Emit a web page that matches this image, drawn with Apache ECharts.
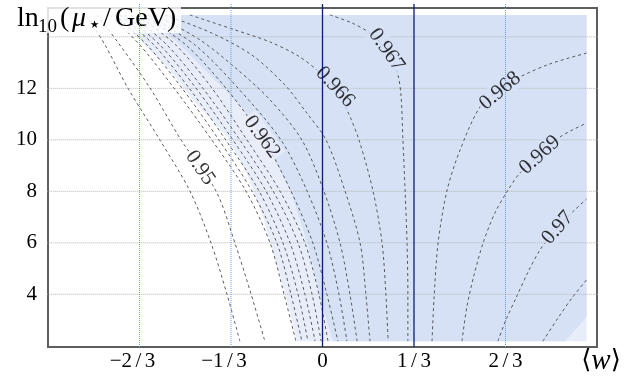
<!DOCTYPE html>
<html><head><meta charset="utf-8">
<script src="https://cdn.jsdelivr.net/npm/echarts@6/dist/echarts.min.js"></script>
<style>html,body{margin:0;padding:0;background:#fff}#c{width:641px;height:381px}</style>
</head><body><div id="c"></div>
<script>
// ---------- axes ----------
const xMin = -1, xMax = 1;
const yMin = 1.953, yMax = 15.12;
const xTicks = [-2/3, -1/3, 0, 1/3, 2/3];
const xTickLabels = ['\u22122\u2006/\u20063', '\u22121\u2006/\u20063', '0', '1\u2006/\u20063', '2\u2006/\u20063'];
const yTicks = [4, 6, 8, 10, 12];
const yGrid = [4, 6, 8, 10, 12, 14];
const guideW = [-2/3, -1/3, 2/3];
const markW = [0, 1/3];

// ---------- shaded regions ----------
const shadeV = [14.85, 13.88, 12.71, 11.55, 10.77, 10.07, 8.83, 7.86, 6.89, 5.99, 4.75, 3.59, 2.18];
const lightW = [-0.767, -0.665, -0.556, -0.472, -0.403, -0.344, -0.282, -0.246, -0.213, -0.191, -0.155, -0.126, -0.093];
const darkW  = [-0.661, -0.537, -0.428, -0.319, -0.257, -0.213, -0.155, -0.111, -0.082, -0.056, -0.027, -0.002, 0.038];
const dataRight = 0.962, dataTop = 14.85, dataBottom = 2.18;
const darkCorner = [[0.883, 2.18], [0.962, 3.12]];

// ---------- contours (n_s levels) ----------
const contourLevels = ['0.94','0.95','0.956','0.957','0.958','0.959','0.960','0.961','0.962','0.963','0.964','0.965','0.966','0.967','0.968','0.969','0.97','0.971'];
const contourPaths = [
  [[-0.861,14.85],[-0.792,13.68],[-0.709,12.01],[-0.592,9.99],[-0.483,8.01],[-0.406,5.99],[-0.348,4.00],[-0.301,2.18]],
  [[-0.821,14.85],[-0.738,13.68],[-0.628,12.01],[-0.515,9.99],[-0.388,8.01],[-0.319,5.99],[-0.260,4.00],[-0.210,2.18]],
  [[-0.774,14.85],[-0.665,13.68],[-0.541,12.01],[-0.403,9.99],[-0.279,8.01],[-0.191,5.99],[-0.140,4.00],[-0.097,2.18]],
  [[-0.756,14.85],[-0.639,13.68],[-0.512,12.01],[-0.377,9.99],[-0.257,8.01],[-0.166,5.99],[-0.115,4.00],[-0.075,2.18]],
  [[-0.738,14.85],[-0.614,13.68],[-0.486,12.01],[-0.352,9.99],[-0.231,8.01],[-0.144,5.99],[-0.089,4.00],[-0.053,2.18]],
  [[-0.720,14.85],[-0.592,13.68],[-0.461,12.01],[-0.326,9.99],[-0.206,8.01],[-0.118,5.99],[-0.064,4.00],[-0.027,2.18]],
  [[-0.698,14.85],[-0.566,13.68],[-0.436,12.01],[-0.301,9.99],[-0.180,8.01],[-0.089,5.99],[-0.038,4.00],[-0.005,2.18]],
  [[-0.676,14.85],[-0.534,13.68],[-0.403,12.01],[-0.275,9.99],[-0.155,8.01],[-0.064,5.99],[-0.013,4.00],[0.020,2.18]],
  [[-0.654,14.85],[-0.497,13.68],[-0.352,12.01],[-0.213,9.99],[-0.115,8.01],[-0.035,5.99],[0.016,4.00],[0.056,2.18]],
  [[-0.636,14.85],[-0.464,13.68],[-0.308,12.01],[-0.151,9.99],[-0.056,8.01],[0.016,5.99],[0.060,4.00],[0.089,2.18]],
  [[-0.610,14.85],[-0.446,13.88],[-0.308,12.71],[-0.191,11.55],[-0.075,9.99],[0.005,8.01],[0.064,5.99],[0.100,4.00],[0.126,2.18]],
  [[-0.574,14.85],[-0.404,14.15],[-0.257,13.29],[-0.137,12.13],[-0.060,11.08],[0.013,9.99],[0.082,8.01],[0.137,5.99],[0.158,4.00],[0.173,2.18]],
  [[-0.483,14.85],[-0.319,14.27],[-0.191,13.80],[-0.089,13.26],[-0.016,12.67],[0.042,12.01],[0.089,11.16],[0.133,9.99],[0.184,8.01],[0.217,5.99],[0.231,4.00],[0.239,2.18]],
  [[0.027,14.85],[0.107,14.54],[0.173,14.15],[0.220,13.68],[0.253,13.18],[0.275,12.52],[0.286,11.74],[0.293,9.99],[0.301,8.01],[0.308,5.99],[0.311,4.00],[0.311,2.18]],
  [[0.399,2.18],[0.406,3.78],[0.421,5.99],[0.454,8.05],[0.501,9.60],[0.574,11.28],[0.647,11.94],[0.719,12.44],[0.829,12.95],[0.962,13.37]],
  [[0.508,2.18],[0.526,3.51],[0.552,4.75],[0.585,5.99],[0.628,7.16],[0.676,8.05],[0.719,8.71],[0.792,9.41],[0.865,10.11],[0.962,10.65]],
  [[0.639,2.18],[0.668,3.00],[0.705,3.86],[0.749,4.87],[0.792,5.72],[0.832,6.27],[0.876,6.81],[0.918,7.27],[0.962,7.70]],
  [[0.803,2.18],[0.858,3.08],[0.909,3.86],[0.962,4.56]]
];
const labelLevels = ['0.95', '0.962', '0.966', '0.967', '0.968', '0.969', '0.97'];
const labelPoints = [[-0.446, 8.91], [-0.221, 10.11], [0.046, 12.05], [0.233, 13.49], [0.647, 11.90], [0.792, 9.41], [0.857, 6.58]];

// ---------- styles ----------
const FONT = "'Liberation Serif', 'DejaVu Serif', serif";
const DARK = '#d6e1f6', LIGHT = '#e8eef9';
const labelBg = lv => lv === '0.95' ? '#ffffff' : (lv === '0.962' ? LIGHT : DARK);

const lightPoly = shadeV.map((v, i) => [lightW[i], v]).concat([[dataRight, dataBottom], [dataRight, dataTop]]);
const darkPoly = shadeV.map((v, i) => [darkW[i], v]).concat(darkCorner, [[dataRight, dataTop]]);

const chart = echarts.init(document.getElementById('c'), null, { renderer: 'canvas' });

function polySeries(poly, color) {
  return {
    type: 'custom', z: 1, silent: true, clip: false, data: [[0, 8]],
    renderItem: (p, api) => ({ type: 'polygon', shape: { points: poly.map(pt => api.coord(pt)) }, style: { fill: color } })
  };
}

const ovW = 0.012, ovV = 0.16;
const series = [
  polySeries(lightPoly, LIGHT),
  polySeries(darkPoly, DARK),
  ...yGrid.map(v => ({ type: 'line', data: [[xMin - ovW, v], [xMax + ovW * 1.4, v]], symbol: 'none', clip: false, z: 2, silent: true,
    lineStyle: { color: '#b4b4b4', width: 1, type: 'dotted' } })),
  ...contourPaths.map(path => ({ type: 'line', data: path, symbol: 'none', smooth: 0.3, z: 3, silent: true,
    lineStyle: { color: '#4a4a4a', width: 0.9, type: [3, 3] } })),
  ...guideW.map(w => ({ type: 'line', data: [[w, yMin], [w, yMax + ovV]], symbol: 'none', clip: false, z: 12, silent: true,
    lineStyle: { color: '#6c9be6', width: 1, type: 'dotted' } })),
  ...markW.map(w => ({ type: 'line', data: [[w, yMin], [w, yMax + ovV]], symbol: 'none', clip: false, z: 12, silent: true,
    lineStyle: { color: '#0a1f70', width: 1.3 } })),
  { type: 'scatter', id: 'labels', symbolSize: 1, itemStyle: { color: 'rgba(0,0,0,0)' }, z: 6, silent: true,
    label: { show: true, position: 'inside', formatter: '{b}', fontFamily: FONT, fontSize: 21, color: '#000', padding: [0, 2] },
    data: labelLevels.map((lv, i) => ({ name: lv, value: labelPoints[i], label: { rotate: 0, backgroundColor: labelBg(lv) } })) }
];

const sub = (x, y, text, size, extra) => Object.assign({ type: 'text', x: x, y: y, z: 11, silent: true,
  style: Object.assign({ text: text, fontSize: size, fontFamily: FONT, fill: '#000', verticalAlign: 'middle', align: 'left' }, extra || {}) });

const option = {
  animation: false,
  grid: { left: 48, top: 8, width: 549, height: 339, show: true, borderColor: '#5e5e5e', borderWidth: 2, backgroundColor: 'transparent', outerBoundsMode: 'none', containLabel: false },
  xAxis: {
    type: 'value', min: xMin, max: xMax,
    axisLine: { show: false }, axisTick: { show: false }, splitLine: { show: false },
    axisLabel: {
      customValues: xTicks, margin: 4, color: '#000', fontFamily: FONT, fontSize: 21,
      formatter: val => {
        const i = xTicks.findIndex(t => Math.abs(t - val) < 1e-6);
        if (i < 0) return '';
        return (xTicks[i] < 0 ? '{neg|' : '{pos|') + xTickLabels[i] + '}';
      },
      rich: { neg: { padding: [0, 14, 0, 0], fontFamily: FONT, fontSize: 21, color: '#000' }, pos: { fontFamily: FONT, fontSize: 21, color: '#000' } }
    },
    name: '{b|\u27E8}{i|w}{b|\u27E9}', nameLocation: 'end', nameGap: 4,
    nameTextStyle: { align: 'center', verticalAlign: 'top', padding: [0, 0, 0, 0],
      rich: { b: { fontFamily: "'DejaVu Serif', 'DejaVu Sans', serif", fontSize: 26, color: '#000' },
              i: { fontFamily: FONT, fontStyle: 'italic', fontSize: 29, color: '#000' } } }
  },
  yAxis: {
    type: 'value', min: yMin, max: yMax,
    axisLine: { show: false }, axisTick: { show: false }, splitLine: { show: false },
    axisLabel: { customValues: yTicks, margin: 11, color: '#000', fontFamily: FONT, fontSize: 21 }
  },
  series: series,
  graphic: { elements: [
    { type: 'rect', z: 10, silent: true, shape: { x: 0, y: 0, width: 181, height: 33 }, style: { fill: 'rgba(255,255,255,0.82)' } },
    sub(17, 18.5, 'ln', 28),
    sub(38, 26.6, '10', 19),
    sub(60, 18.5, '(', 28),
    sub(72, 18.5, '\u03BC', 28, { fontStyle: 'italic' }),
    sub(88, 26, '\u22C6', 21, { fontFamily: "'DejaVu Sans', sans-serif" }),
    sub(103, 18.5, '/', 28),
    sub(115, 18.5, 'GeV', 28),
    sub(167, 18.5, ')', 28)
  ] }
};
chart.setOption(option);

// rotate each contour label along its contour, measured through the chart's own scales
function labelRotation(path, pt) {
  const px = path.map(p => chart.convertToPixel({ gridIndex: 0 }, p));
  const q = chart.convertToPixel({ gridIndex: 0 }, pt);
  let best = [1, 0], bestD = Infinity;
  for (let i = 0; i < px.length - 1; i++) {
    const a = px[i], b = px[i + 1];
    const dx = b[0] - a[0], dy = b[1] - a[1];
    const L2 = dx * dx + dy * dy || 1;
    let t = ((q[0] - a[0]) * dx + (q[1] - a[1]) * dy) / L2;
    t = Math.max(0, Math.min(1, t));
    const ex = a[0] + t * dx - q[0], ey = a[1] + t * dy - q[1];
    const d = ex * ex + ey * ey;
    if (d < bestD) { bestD = d; best = [dx, dy]; }
  }
  let ang = -Math.atan2(best[1], best[0]) * 180 / Math.PI;
  if (ang > 90) ang -= 180;
  if (ang < -90) ang += 180;
  return ang;
}
chart.setOption({ series: [{ id: 'labels', data: labelLevels.map((lv, i) => ({
  name: lv, value: labelPoints[i],
  label: { rotate: labelRotation(contourPaths[contourLevels.indexOf(lv)], labelPoints[i]), backgroundColor: labelBg(lv) }
})) }] });
</script></body></html>
